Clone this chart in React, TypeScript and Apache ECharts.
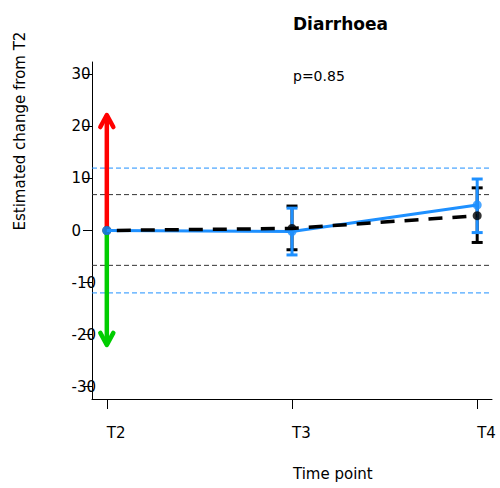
import React, { useEffect, useRef } from 'react';
import * as echarts from 'echarts';

const timeLabels = ['T2', 'T3', 'T4'];
const timeIndex = [0, 1, 2];
const yTicks = [-30, -20, -10, 0, 10, 20, 30];
const blueEstimate = [0, -0.2, 4.9];
const blueLower = [0, -4.7, -0.4];
const blueUpper = [0, 4.3, 9.9];
const blackEstimate = [0, 0.4, 2.85];
const blackLower = [0, -3.7, -2.3];
const blackUpper = [0, 4.7, 8.2];
const blueBounds = [12.0, -12.0];
const blackBounds = [6.9, -6.7];
const arrowTips = [22.2, -22.0];
const arrowColors = ['#ff0000', '#00cd00'];
const titleText = 'Diarrhoea';
const pValueText = 'p=0.85';
const yAxisTitle = 'Estimated change from T2';
const xAxisTitle = 'Time point';

const X_MIN = -0.08;
const X_MAX = 2.08;
const Y_MIN = -32.4;
const Y_MAX = 32.4;
const FONT = '"DejaVu Sans", sans-serif';
const BLUE = '#1e90ff';

export default function App() {
  const ref = useRef<HTMLDivElement>(null);
  useEffect(() => {
    if (!ref.current) return;
    const chart = echarts.init(ref.current, null, { renderer: 'svg' });

    const refData = [
      ...blueBounds.map((v) => [v, 0]),
      ...blackBounds.map((v) => [v, 1]),
    ];

    const errRender = (color: string) => (params: any, api: any) => {
      const x = api.value(0);
      const lo = api.coord([x, api.value(1)]);
      const hi = api.coord([x, api.value(2)]);
      const hw = 5.5;
      const style = { stroke: color, lineWidth: 3, fill: null };
      return {
        type: 'group',
        children: [
          { type: 'line', shape: { x1: lo[0], y1: lo[1], x2: hi[0], y2: hi[1] }, style },
          { type: 'line', shape: { x1: lo[0] - hw, y1: lo[1], x2: lo[0] + hw, y2: lo[1] }, style },
          { type: 'line', shape: { x1: hi[0] - hw, y1: hi[1], x2: hi[0] + hw, y2: hi[1] }, style },
        ],
      };
    };

    const errData = (lo: number[], hi: number[]) =>
      timeIndex.slice(1).map((i) => [i, lo[i], hi[i]]);

    chart.setOption({
      animation: false,
      grid: { left: 92, right: 8, top: 62, bottom: 89, containLabel: false },
      xAxis: {
        type: 'value',
        min: X_MIN,
        max: X_MAX,
        axisLine: { onZero: false, lineStyle: { color: '#000', width: 1 } },
        axisTick: { show: true, length: 10, customValues: timeIndex, lineStyle: { color: '#000' } },
        axisLabel: {
          customValues: timeIndex,
          formatter: (v: number) => timeLabels[Math.round(v)] ?? '',
          align: 'left',
          verticalAlign: 'middle',
          margin: 34,
          fontFamily: FONT,
          fontSize: 15,
          color: '#000',
        },
        splitLine: { show: false },
      },
      yAxis: {
        type: 'value',
        min: Y_MIN,
        max: Y_MAX,
        axisLine: { show: true, onZero: false, lineStyle: { color: '#000', width: 1 } },
        axisTick: { show: true, length: 9, customValues: yTicks, lineStyle: { color: '#000' } },
        axisLabel: {
          customValues: yTicks,
          align: 'left',
          verticalAlign: 'middle',
          margin: 20.5,
          padding: [6, 0, 0, 0],
          fontFamily: FONT,
          fontSize: 15,
          color: '#000',
        },
        splitLine: { show: false },
      },
      graphic: [
        {
          type: 'text',
          x: 293,
          y: 23.5,
          style: { text: titleText, font: `bold 17px ${FONT}`, fill: '#000', align: 'left', verticalAlign: 'middle', textAlign: 'left', textVerticalAlign: 'middle' },
        },
        {
          type: 'text',
          x: 293,
          y: 76,
          style: { text: pValueText, font: `14px ${FONT}`, fill: '#000', align: 'left', verticalAlign: 'middle', textAlign: 'left', textVerticalAlign: 'middle' },
        },
        {
          type: 'text',
          x: 293,
          y: 474,
          style: { text: xAxisTitle, font: `15px ${FONT}`, fill: '#000', align: 'left', verticalAlign: 'middle', textAlign: 'left', textVerticalAlign: 'middle' },
        },
        {
          type: 'text',
          x: 20,
          y: 230.5,
          rotation: Math.PI / 2,
          style: { text: yAxisTitle, font: `15px ${FONT}`, fill: '#000', align: 'left', verticalAlign: 'middle', textAlign: 'left', textVerticalAlign: 'middle' },
        },
      ],
      series: [
        {
          type: 'custom',
          name: 'reference',
          silent: true,
          data: refData,
          encode: { y: 0 },
          renderItem: (params: any, api: any) => {
            const v = api.value(0);
            const kind = api.value(1);
            const a = api.coord([X_MIN, v]);
            const b = api.coord([X_MAX, v]);
            return {
              type: 'line',
              shape: { x1: a[0], y1: a[1], x2: b[0], y2: b[1] },
              style: { stroke: kind === 0 ? BLUE : '#333', lineWidth: 1, lineDash: [5, 3], fill: null },
            };
          },
        },
        {
          type: 'custom',
          name: 'arrows',
          silent: true,
          data: arrowTips.map((t) => [0, t]),
          encode: { x: 0, y: 1 },
          renderItem: (params: any, api: any) => {
            const x = api.value(0);
            const tip = api.value(1);
            const p0 = api.coord([x, 0]);
            const p1 = api.coord([x, tip]);
            const dir = tip > 0 ? 1 : -1;
            const hh = 12;
            const hw = 6.5;
            const color = arrowColors[params.dataIndex];
            const style = { stroke: color, lineWidth: 4.5, fill: null, lineJoin: 'round', lineCap: 'round' };
            return {
              type: 'group',
              children: [
                { type: 'line', shape: { x1: p0[0], y1: p0[1], x2: p1[0], y2: p1[1] }, style: { ...style, lineCap: 'butt' } },
                {
                  type: 'polyline',
                  shape: { points: [[p1[0] - hw, p1[1] + dir * hh], [p1[0], p1[1]], [p1[0] + hw, p1[1] + dir * hh]] },
                  style,
                },
              ],
            };
          },
        },
        {
          type: 'custom',
          name: 'black CI',
          silent: true,
          data: errData(blackLower, blackUpper),
          encode: { x: 0, y: [1, 2] },
          renderItem: errRender('#000'),
        },
        {
          type: 'custom',
          name: 'blue CI',
          silent: true,
          data: errData(blueLower, blueUpper),
          encode: { x: 0, y: [1, 2] },
          renderItem: errRender(BLUE),
        },
        {
          type: 'line',
          name: 'blue',
          data: timeIndex.map((i) => [i, blueEstimate[i]]),
          showSymbol: false,
          symbol: 'none',
          lineStyle: { color: BLUE, width: 3 },
          silent: true,
        },
        {
          type: 'line',
          name: 'black',
          data: timeIndex.map((i) => [i, blackEstimate[i]]),
          showSymbol: false,
          symbol: 'none',
          lineStyle: { color: '#000', width: 3.5, type: [14, 10], dashOffset: 14 },
          silent: true,
        },
        {
          type: 'scatter',
          name: 'black points',
          data: timeIndex.map((i) => [i, blackEstimate[i]]),
          symbol: 'circle',
          symbolSize: 9,
          itemStyle: { color: '#000' },
          silent: true,
        },
        {
          type: 'scatter',
          name: 'blue points',
          data: timeIndex.map((i) => [i, blueEstimate[i]]),
          symbol: 'circle',
          symbolSize: 9,
          itemStyle: { color: BLUE },
          silent: true,
        },
      ],
    });
    return () => chart.dispose();
  }, []);

  return (
    <div
      ref={ref}
      style={{ position: 'fixed', left: 0, top: 0, width: 500, height: 488, background: '#fff' }}
    />
  );
}
